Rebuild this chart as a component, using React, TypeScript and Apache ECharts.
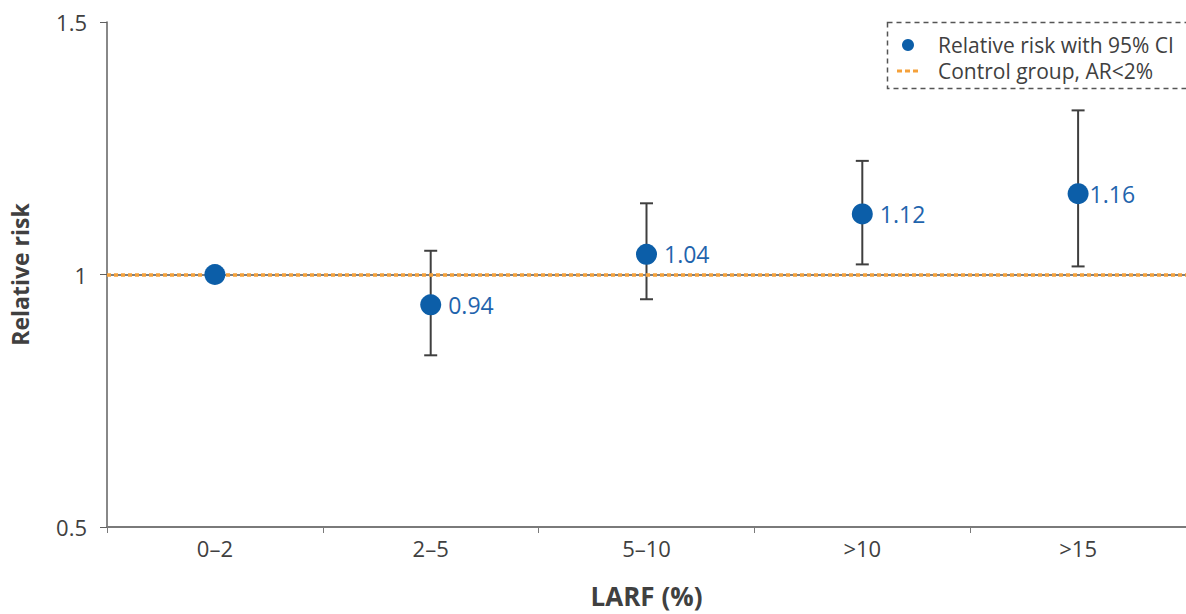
import React, { useEffect, useRef } from "react";
import * as echarts from "echarts";

const categories = ["0–2", "2–5", "5–10", ">10", ">15"];
const relativeRisk = [1.0, 0.94, 1.04, 1.12, 1.16];
const ciLow = [null, 0.84, 0.951, 1.02, 1.016];
const ciHigh = [null, 1.047, 1.141, 1.225, 1.325];
const yTicks = [0.5, 1, 1.5];
const controlValue = 1;

const FONT = "'Open Sans', Lato, sans-serif";

export default function App() {
  const ref = useRef<HTMLDivElement>(null);
  useEffect(() => {
    if (!ref.current) return;
    const chart = echarts.init(ref.current, undefined, { renderer: "svg" });
    const errData = categories
      .map((_, i) => [i, ciLow[i], ciHigh[i]])
      .filter((d) => d[1] != null);
    chart.setOption({
      animation: false,
      textStyle: { fontFamily: FONT },
      grid: { left: 104, top: 22, width: 1090, height: 510 },
      xAxis: {
        type: "category",
        data: categories,
        name: "LARF (%)",
        nameLocation: "middle",
        nameGap: 56,
        nameTextStyle: { fontSize: 26, fontWeight: "bold", color: "#404040", fontFamily: FONT },
        axisLine: { lineStyle: { color: "#7a7a7a", width: 2 } },
        axisTick: { show: true, length: 6, lineStyle: { color: "#7a7a7a", width: 1 } },
        axisLabel: { fontSize: 22, color: "#404040", margin: 10, fontFamily: FONT },
        splitLine: { show: false },
      },
      yAxis: {
        type: "value",
        min: yTicks[0],
        max: yTicks[yTicks.length - 1],
        interval: 0.5,
        name: "Relative risk",
        nameLocation: "middle",
        nameGap: 76,
        nameRotate: 90,
        nameTextStyle: { fontSize: 23, fontWeight: "bold", color: "#404040", fontFamily: FONT },
        axisLine: { show: true, lineStyle: { color: "#606060", width: 1.5 } },
        axisTick: { show: true, length: 7, lineStyle: { color: "#606060", width: 1 } },
        axisLabel: {
          fontSize: 22,
          color: "#404040",
          margin: 20,
          fontFamily: FONT,
          formatter: (v: number) => (v === 1 ? "1" : String(v)),
        },
        splitLine: { show: false },
      },
      series: [
        {
          name: "Control group, AR<2%",
          type: "line",
          data: [],
          z: 1,
          markLine: {
            silent: true,
            symbol: "none",
            label: { show: false },
            data: [
              { yAxis: controlValue, lineStyle: { color: "#7f7f7f", width: 2, type: "solid" } },
              { yAxis: controlValue, lineStyle: { color: "#f5a13a", width: 3.5, type: [4, 3] } },
            ],
          },
        },
        {
          name: "CI",
          type: "custom",
          z: 3,
          data: errData,
          renderItem: (params: any, api: any) => {
            const x = api.coord([api.value(0), api.value(1)])[0];
            const yl = api.coord([api.value(0), api.value(1)])[1];
            const yh = api.coord([api.value(0), api.value(2)])[1];
            const cap = 6.5;
            const style = { stroke: "#3f3f3f", lineWidth: 2 };
            return {
              type: "group",
              children: [
                { type: "line", shape: { x1: x, y1: yl, x2: x, y2: yh }, style },
                { type: "line", shape: { x1: x - cap, y1: yh, x2: x + cap, y2: yh }, style },
                { type: "line", shape: { x1: x - cap, y1: yl, x2: x + cap, y2: yl }, style },
              ],
            };
          },
        },
        {
          name: "Relative risk with 95% CI",
          type: "scatter",
          z: 5,
          symbol: "circle",
          symbolSize: 21,
          itemStyle: { color: "#0c5ea8", opacity: 1 },
          data: relativeRisk.map((v, i) => ({
            value: [i, v],
            label: {
              show: i > 0,
              distance: i === 4 ? 1 : 7,
            },
          })),
          label: {
            show: true,
            position: "right",
            fontSize: 23,
            color: "#1f64ad",
            fontFamily: FONT,
            formatter: (p: any) => p.value[1].toFixed(2),
          },
        },
      ],
      graphic: [
        {
          type: "rect",
          shape: { x: 887.5, y: 22.5, width: 310, height: 66 },
          style: { fill: "#ffffff", stroke: "#555555", lineWidth: 1.5, lineDash: [5, 4] },
          z: 10,
        },
        {
          type: "circle",
          shape: { cx: 908, cy: 45, r: 6 },
          style: { fill: "#0c5ea8" },
          z: 11,
        },
        {
          type: "line",
          shape: { x1: 897, y1: 71, x2: 921, y2: 71 },
          style: { stroke: "#f5a13a", lineWidth: 3, lineDash: [5, 3] },
          z: 11,
        },
        {
          type: "text",
          x: 938,
          y: 45,
          style: {
            text: "Relative risk with 95% CI",
            fontSize: 21,
            fill: "#404040",
            fontFamily: FONT,
            verticalAlign: "middle",
          },
          z: 11,
        },
        {
          type: "text",
          x: 938,
          y: 71,
          style: {
            text: "Control group, AR<2%",
            fontSize: 21,
            fill: "#404040",
            fontFamily: FONT,
            verticalAlign: "middle",
          },
          z: 11,
        },
      ],
    });
    return () => chart.dispose();
  }, []);
  return (
    <div
      ref={ref}
      style={{ position: "fixed", left: 0, top: 0, width: 1186, height: 614, background: "#fff" }}
    />
  );
}
